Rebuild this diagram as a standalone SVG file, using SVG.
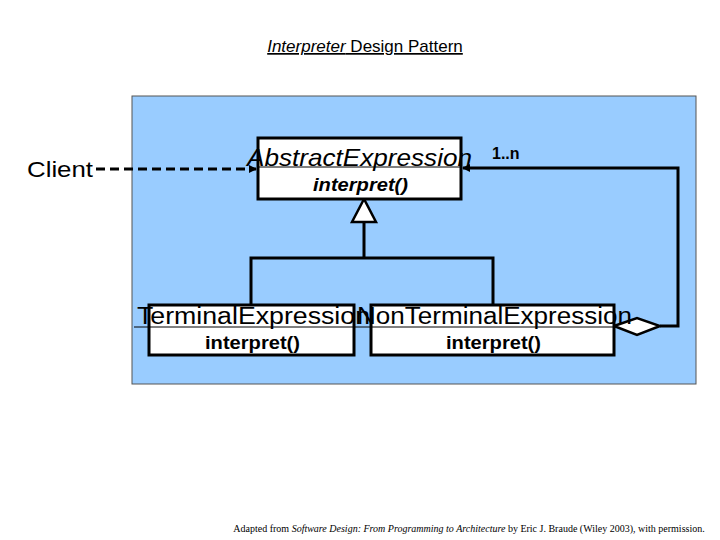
<svg xmlns="http://www.w3.org/2000/svg" width="720" height="540" viewBox="0 0 720 540">
<style>
.t{font-family:"Liberation Sans",Arial,sans-serif;fill:#000}
.box{fill:#fff;stroke:#000;stroke-width:3}
.ln{fill:none;stroke:#000;stroke-width:3}
</style>
<defs>
<marker id="ah" markerWidth="8" markerHeight="8" refX="7" refY="4" orient="auto" markerUnits="userSpaceOnUse"><path d="M0,0 L8,4 L0,8 Z" fill="#000"/></marker>
</defs>
<rect width="720" height="540" fill="#fff"/>
<text class="t" x="365" y="52" font-size="17" text-anchor="middle" text-decoration="underline"><tspan font-style="italic">Interpreter</tspan> Design Pattern</text>
<rect x="132" y="96" width="564" height="288" fill="#99ccff" stroke="#555" stroke-width="1"/>
<g id="connectors">
<path d="M96,169 H256" class="ln" stroke-width="2" stroke-dasharray="9,5" marker-end="url(#ah)"/>
<path d="M364,222 V258 M251,305 V258 H493 V305" class="ln"/>
<polygon points="364,199 352,222 376,222" fill="#fff" stroke="#000" stroke-width="2.5"/>
<path d="M660,326 H678 V168 H463" class="ln" marker-end="url(#ah)"/>
<polygon points="614,326 637,318 660,326 637,335" fill="#fff" stroke="#000" stroke-width="2.5"/>
<text class="t" x="492" y="159" font-size="16" font-weight="bold">1..n</text>
</g>
<g id="client">
<rect x="26" y="154" width="68" height="31" fill="#fff"/>
<text class="t" x="27" y="177" font-size="22" textLength="66" lengthAdjust="spacingAndGlyphs">Client</text>
</g>
<g id="abstract">
<rect class="box" x="258" y="138" width="203" height="61"/>
<line x1="258" y1="167" x2="461" y2="167" stroke="#000" stroke-width="1"/>
<text class="t" x="247" y="166" font-size="24" font-style="italic" textLength="225" lengthAdjust="spacingAndGlyphs">AbstractExpression</text>
<text class="t" x="313" y="191" font-size="19" font-style="italic" font-weight="bold" textLength="95" lengthAdjust="spacingAndGlyphs">interpret()</text>
</g>
<g id="terminal">
<rect class="box" x="149" y="305" width="205" height="50"/>
<line x1="134" y1="327" x2="371" y2="327" stroke="#000" stroke-width="1"/>
<text class="t" x="137" y="324" font-size="23" textLength="233" lengthAdjust="spacingAndGlyphs">TerminalExpression</text>
<text class="t" x="205" y="349" font-size="19" font-weight="bold" textLength="95" lengthAdjust="spacingAndGlyphs">interpret()</text>
</g>
<g id="nonterminal">
<rect class="box" x="371" y="305" width="243" height="50"/>
<line x1="371" y1="327" x2="614" y2="327" stroke="#000" stroke-width="1"/>
<text class="t" x="357" y="324" font-size="23" textLength="275" lengthAdjust="spacingAndGlyphs">NonTerminalExpression</text>
<text class="t" x="446" y="349" font-size="19" font-weight="bold" textLength="95" lengthAdjust="spacingAndGlyphs">interpret()</text>
</g>
<text x="469" y="532" font-size="10" text-anchor="middle" font-family="'Liberation Serif',serif">Adapted from <tspan font-style="italic">Software Design: From Programming to Architecture</tspan> by Eric J. Braude (Wiley 2003), with permission.</text>
</svg>
